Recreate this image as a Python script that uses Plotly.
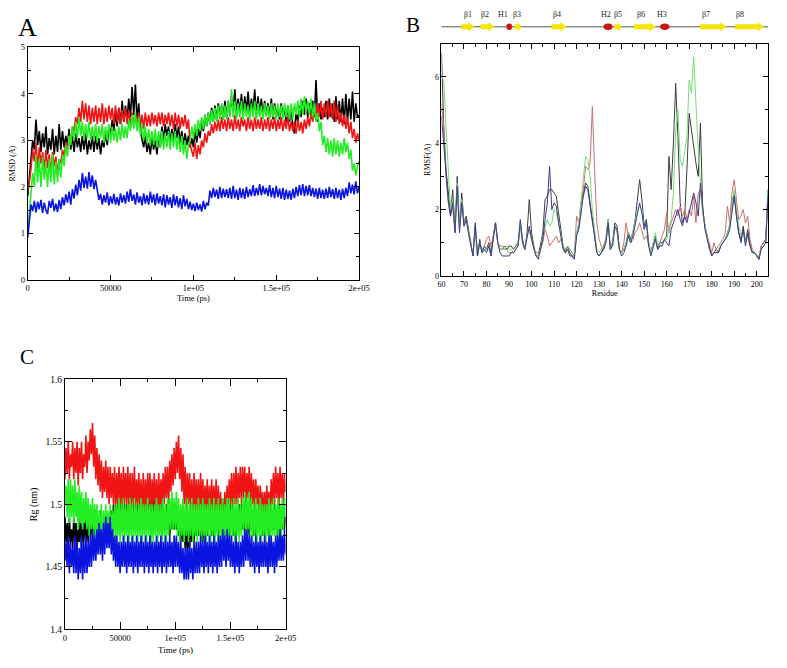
import plotly.graph_objects as go

# ---------------- Panel A: RMSD (A) vs time, sampled every 1000 ps ----------------
time_step_ps = 1000
rmsd_black = [1.8, 2.2, 2.6, 3.0, 2.8, 3.45, 2.9, 3.2, 2.75, 3.15, 2.85, 3.3, 2.7, 3.05, 2.8, 3.25, 2.7, 3.1, 2.75, 3.35,
              2.8, 3.2, 2.85, 3.1, 2.9, 3.25, 2.8, 3.1, 2.75, 3.15, 2.85, 3.05, 2.75, 3.1, 2.8, 3.15, 2.7, 3.0, 2.8, 3.1,
              2.75, 3.1, 2.8, 3.05, 2.7, 3.0, 2.85, 3.2, 2.9, 3.3, 3.1, 3.45, 3.2, 3.6, 3.3, 3.7, 3.35, 3.85, 3.4, 3.75,
              3.45, 3.9, 3.5, 4.15, 3.55, 4.2, 3.4, 3.8, 3.2, 3.0, 2.85, 3.1, 2.75, 2.95, 2.7, 3.05, 2.8, 3.0, 2.7, 3.1,
              2.85, 3.3, 3.0, 3.35, 3.1, 3.3, 2.95, 3.25, 3.0, 3.35, 3.05, 3.3, 2.95, 3.2, 2.9, 3.15, 2.9, 3.1, 2.85, 3.05,
              2.85, 3.2, 2.95, 3.25, 3.05, 3.45, 3.2, 3.55, 3.3, 3.6, 3.35, 3.7, 3.4, 3.75, 3.45, 3.8, 3.5, 3.75, 3.45, 3.85,
              3.5, 3.85, 3.55, 3.95, 3.6, 4.1, 3.55, 3.9, 3.6, 4.0, 3.55, 3.95, 3.6, 4.05, 3.55, 3.9, 3.6, 4.1, 3.5, 3.95,
              3.55, 3.9, 3.5, 3.85, 3.55, 3.8, 3.5, 3.9, 3.45, 3.8, 3.5, 3.75, 3.45, 3.8, 3.5, 3.7, 3.4, 3.75, 3.4, 3.7,
              3.3, 3.15, 3.6, 3.4, 3.75, 3.5, 3.85, 3.55, 3.9, 3.5, 3.8, 3.55, 3.85, 3.5, 4.3, 3.4, 3.8, 3.45, 3.7, 3.5,
              3.85, 3.45, 3.9, 3.5, 3.8, 3.4, 3.95, 3.45, 3.85, 3.4, 3.9, 3.35, 4.0, 3.4, 3.9, 3.45, 4.05, 3.4, 3.8, 3.5,
              3.55]
rmsd_red = [1.9, 2.1, 2.4, 2.8, 2.55, 2.95, 2.4, 2.85, 2.5, 2.75, 2.35, 2.8, 2.4, 2.7, 2.3, 2.75, 2.45, 2.65, 2.3, 2.6,
            2.5, 2.8, 2.65, 2.95, 2.8, 3.1, 2.95, 3.3, 3.2, 3.5, 3.35, 3.7, 3.4, 3.85, 3.45, 3.8, 3.4, 3.75, 3.35, 3.7,
            3.4, 3.75, 3.35, 3.7, 3.4, 3.8, 3.35, 3.7, 3.4, 3.75, 3.45, 3.7, 3.35, 3.75, 3.4, 3.7, 3.35, 3.65, 3.4, 3.7,
            3.35, 3.65, 3.3, 3.6, 3.35, 3.55, 3.25, 3.6, 3.3, 3.55, 3.25, 3.6, 3.3, 3.55, 3.3, 3.6, 3.35, 3.55, 3.3, 3.6,
            3.35, 3.6, 3.3, 3.55, 3.35, 3.6, 3.3, 3.55, 3.25, 3.6, 3.3, 3.55, 3.25, 3.5, 3.3, 3.55, 3.25, 3.45, 2.9, 2.75,
            2.65, 2.95, 2.6, 2.9, 2.7, 3.0, 2.85, 3.15, 2.95, 3.2, 3.1, 3.35, 3.15, 3.4, 3.2, 3.45, 3.2, 3.5, 3.25, 3.45,
            3.2, 3.5, 3.25, 3.45, 3.2, 3.55, 3.25, 3.45, 3.2, 3.5, 3.3, 3.45, 3.2, 3.5, 3.25, 3.45, 3.2, 3.5, 3.25, 3.45,
            3.25, 3.5, 3.2, 3.45, 3.25, 3.5, 3.2, 3.45, 3.25, 3.5, 3.2, 3.45, 3.25, 3.5, 3.2, 3.45, 3.25, 3.5, 3.2, 3.4,
            3.2, 3.4, 3.15, 3.45, 3.2, 3.4, 3.15, 3.45, 3.25, 3.5, 3.3, 3.6, 3.4, 3.7, 3.45, 3.8, 3.5, 3.85, 3.45, 3.8,
            3.5, 3.85, 3.5, 3.8, 3.45, 3.85, 3.4, 3.75, 3.35, 3.6, 3.3, 3.55, 3.25, 3.5, 3.15, 3.4, 3.05, 3.25, 2.95, 3.15,
            3.0]
rmsd_green = [1.0, 1.4, 1.8, 2.3, 2.0, 2.7, 2.1, 2.6, 2.0, 2.65, 2.15, 2.55, 2.0, 2.6, 2.1, 2.7, 2.05, 2.55, 2.1, 2.6,
              2.2, 2.7, 2.45, 2.9, 2.65, 3.1, 2.9, 3.3, 3.0, 3.4, 3.05, 3.5, 3.1, 3.4, 3.0, 3.35, 3.05, 3.4, 3.0, 3.3,
              3.0, 3.35, 2.95, 3.3, 3.05, 3.35, 2.95, 3.3, 3.0, 3.35, 2.95, 3.3, 3.0, 3.25, 2.95, 3.3, 3.0, 3.35, 3.05, 3.3,
              3.05, 3.45, 3.2, 3.55, 3.25, 3.6, 3.2, 3.5, 3.1, 3.35, 3.0, 3.3, 2.95, 3.25, 2.9, 3.2, 2.9, 3.25, 2.85, 3.2,
              2.85, 3.2, 2.8, 3.15, 2.85, 3.2, 2.8, 3.15, 2.85, 3.2, 2.8, 3.1, 2.75, 3.1, 2.7, 3.0, 2.6, 2.9, 3.0, 3.3,
              3.05, 3.35, 3.1, 3.45, 3.2, 3.5, 3.25, 3.55, 3.3, 3.6, 3.35, 3.65, 3.4, 3.7, 3.4, 3.75, 3.45, 3.8, 3.45, 3.75,
              3.45, 3.85, 3.5, 4.1, 3.5, 3.85, 3.45, 3.8, 3.5, 3.85, 3.45, 3.8, 3.5, 3.75, 3.45, 3.8, 3.5, 3.85, 3.45, 3.8,
              3.5, 3.75, 3.45, 3.8, 3.5, 3.75, 3.45, 3.8, 3.5, 3.75, 3.45, 3.8, 3.5, 3.75, 3.45, 3.8, 3.5, 3.75, 3.45, 3.8,
              3.45, 3.8, 3.55, 3.85, 3.5, 3.9, 3.55, 3.95, 3.6, 3.85, 3.55, 3.9, 3.5, 3.8, 3.4, 3.6, 3.2, 3.4, 2.9, 3.1,
              2.75, 3.05, 2.7, 3.0, 2.65, 3.05, 2.7, 3.0, 2.65, 2.95, 2.7, 3.05, 2.75, 2.95, 2.6, 2.8, 2.35, 2.5, 2.25, 2.45,
              2.55]
rmsd_blue = [0.9, 1.3, 1.62, 1.48, 1.7, 1.45, 1.68, 1.52, 1.72, 1.44, 1.66, 1.5, 1.42, 1.7, 1.55, 1.74, 1.48, 1.64, 1.46, 1.72,
             1.52, 1.78, 1.6, 1.84, 1.66, 1.9, 1.62, 1.95, 1.75, 2.05, 1.82, 2.15, 1.92, 2.3, 1.98, 2.22, 1.96, 2.32, 2.0, 2.25,
             1.95, 2.15, 1.9, 1.72, 1.85, 1.62, 1.82, 1.66, 1.88, 1.6, 1.8, 1.64, 1.85, 1.62, 1.78, 1.6, 1.86, 1.66, 1.82, 1.64,
             1.9, 1.68, 1.95, 1.7, 1.84, 1.62, 1.88, 1.66, 1.8, 1.6, 1.86, 1.64, 1.82, 1.62, 1.9, 1.66, 1.84, 1.6, 1.86, 1.64,
             1.8, 1.6, 1.84, 1.56, 1.82, 1.62, 1.78, 1.55, 1.84, 1.6, 1.8, 1.56, 1.76, 1.52, 1.82, 1.58, 1.74, 1.52, 1.68, 1.5,
             1.64, 1.48, 1.66, 1.5, 1.62, 1.47, 1.7, 1.52, 1.66, 1.6, 1.92, 1.76, 1.98, 1.78, 1.94, 1.74, 2.0, 1.76, 1.96, 1.78,
             1.95, 1.76, 1.98, 1.74, 2.02, 1.76, 1.94, 1.72, 1.98, 1.76, 1.96, 1.74, 2.0, 1.78, 1.95, 1.8, 2.04, 1.8, 1.98, 1.82,
             2.06, 1.82, 2.02, 1.84, 1.98, 1.8, 2.04, 1.78, 1.98, 1.76, 2.02, 1.78, 1.96, 1.74, 1.98, 1.72, 1.94, 1.74, 1.92, 1.72,
             1.96, 1.76, 2.0, 1.8, 2.04, 1.82, 2.06, 1.8, 2.02, 1.82, 2.04, 1.8, 1.98, 1.78, 1.96, 1.74, 1.98, 1.76, 1.94, 1.74,
             1.96, 1.76, 2.0, 1.78, 1.95, 1.74, 1.98, 1.76, 1.94, 1.72, 1.96, 1.76, 1.98, 1.8, 2.1, 1.86, 2.05, 1.84, 2.12, 1.86,
             2.0]

# ---------------- Panel B: RMSF (A) per residue 60..205 ----------------
residues = list(range(60, 206))
rmsf_black = [6.7, 4.5, 3.2, 2.5, 1.9, 2.6, 1.4, 3.0, 1.5, 2.5,
              1.6, 1.8, 1.4, 1.0, 0.6, 1.6, 0.6, 1.1, 0.7, 0.9,
              0.8, 1.0, 0.7, 1.2, 1.6, 1.0, 0.8, 0.8, 0.9, 0.8,
              0.9, 0.9, 0.8, 0.9, 1.0, 1.6, 1.1, 0.8, 1.3, 2.3,
              1.3, 0.9, 0.6, 0.6, 0.9, 1.3, 2.3, 2.4, 2.6, 2.6,
              2.5, 2.4, 1.9, 1.3, 0.9, 0.7, 0.9, 0.7, 0.6, 0.6,
              1.3, 1.5, 2.2, 2.5, 2.8, 2.7, 2.2, 1.8, 1.3, 0.7,
              0.6, 0.7, 0.9, 1.1, 1.7, 0.8, 1.0, 1.6, 1.5, 0.8,
              0.7, 0.8, 1.0, 1.3, 1.1, 1.3, 1.7, 2.3, 2.9, 2.3,
              1.5, 1.7, 1.0, 0.7, 1.0, 1.2, 0.8, 1.0, 1.0, 1.1,
              1.2, 3.6, 2.6, 4.0, 5.8, 4.2, 2.2, 1.6, 1.8, 3.2,
              4.9, 4.4, 3.8, 3.4, 3.0, 4.6, 2.0, 1.5, 1.2, 0.8,
              0.6, 0.7, 0.8, 0.7, 0.9, 1.0, 1.1, 1.3, 1.5, 2.2,
              2.5, 1.8, 1.3, 1.1, 1.5, 1.0, 1.4, 1.0, 0.7, 0.7,
              0.6, 0.5, 0.9, 1.0, 1.1, 2.6]
rmsf_red = [5.2, 4.5, 3.0, 2.2, 1.8, 2.1, 1.3, 2.6, 1.4, 2.2,
            1.5, 1.7, 1.3, 0.9, 0.7, 1.4, 0.7, 1.0, 0.8, 0.9,
            1.1, 1.2, 0.9, 1.2, 1.5, 1.0, 0.9, 0.9, 0.8, 0.8,
            0.7, 0.7, 0.7, 0.8, 0.9, 1.5, 1.0, 0.8, 1.2, 1.4,
            1.1, 0.8, 0.7, 0.7, 0.8, 1.0, 1.4, 1.2, 0.9, 1.0,
            1.1, 1.2, 1.0, 1.1, 0.9, 0.8, 0.9, 0.8, 0.7, 0.6,
            1.8, 1.6, 2.2, 2.6, 3.3, 3.2, 3.4, 5.1, 3.2, 1.6,
            1.1, 0.9, 0.8, 1.0, 1.5, 0.9, 1.0, 1.5, 1.3, 0.8,
            0.7, 1.0, 1.6, 1.2, 1.0, 1.1, 1.3, 1.4, 1.6, 1.3,
            1.1, 1.2, 0.9, 0.7, 1.0, 1.1, 0.9, 1.0, 1.2, 1.4,
            1.9, 1.3, 1.6, 1.8, 2.0, 1.8, 2.1, 1.8, 2.0, 1.7,
            2.0, 1.8, 2.4, 1.6, 2.5, 2.6, 1.9, 1.5, 1.2, 0.9,
            0.7, 1.0, 0.8, 0.9, 1.0, 1.1, 1.3, 2.1, 1.6, 2.5,
            2.9, 2.2, 1.7, 1.8, 2.0, 1.6, 1.8, 1.1, 0.8, 0.7,
            0.6, 0.6, 0.9, 1.0, 1.1, 2.3]
rmsf_green = [6.0, 5.9, 4.5, 3.0, 2.0, 2.3, 1.4, 2.8, 1.5, 2.3,
              1.6, 1.7, 1.3, 0.9, 0.6, 1.4, 0.6, 1.0, 0.7, 0.8,
              0.8, 0.9, 0.6, 1.1, 1.6, 1.0, 0.8, 0.8, 0.8, 0.9,
              0.8, 0.8, 0.7, 0.8, 0.9, 1.6, 1.0, 0.8, 1.2, 1.4,
              1.1, 0.8, 0.6, 0.6, 0.8, 1.2, 1.5, 1.7, 1.5, 1.6,
              2.0, 1.9, 1.6, 1.3, 0.9, 0.8, 0.9, 0.8, 0.7, 0.6,
              1.3, 1.6, 2.3, 3.0, 3.6, 3.5, 3.0, 2.0, 1.3, 0.8,
              0.7, 0.8, 0.9, 1.1, 1.7, 0.8, 1.0, 1.5, 1.4, 0.8,
              0.7, 0.8, 1.0, 1.2, 1.0, 1.3, 1.6, 2.0, 2.1, 2.0,
              1.4, 1.6, 1.0, 0.7, 1.0, 1.3, 0.9, 0.9, 1.0, 1.1,
              1.1, 1.4, 1.7, 2.5, 4.3, 5.0, 3.5, 3.3, 3.8, 4.2,
              5.9, 5.5, 6.6, 5.0, 3.8, 2.8, 2.0, 1.5, 1.1, 0.8,
              0.6, 0.7, 0.7, 0.8, 0.9, 1.0, 1.1, 1.3, 1.5, 2.1,
              2.6, 2.0, 1.5, 1.2, 1.3, 1.0, 1.2, 0.9, 0.7, 0.7,
              0.6, 0.6, 0.8, 0.9, 1.0, 2.6]
rmsf_blue = [4.8, 4.0, 3.1, 2.3, 1.8, 2.2, 1.3, 2.7, 1.3, 2.2,
             1.5, 1.7, 1.3, 0.9, 0.6, 1.5, 0.6, 1.0, 0.7, 0.8,
             0.7, 0.9, 0.6, 1.1, 1.6, 1.0, 0.7, 0.6, 0.6, 0.6,
             0.6, 0.7, 0.7, 0.8, 0.9, 1.7, 1.0, 0.8, 1.2, 1.5,
             1.1, 0.8, 0.6, 0.5, 0.8, 1.1, 1.7, 2.2, 3.3, 2.0,
             2.2, 2.1, 1.6, 1.2, 0.8, 0.7, 0.8, 0.6, 0.6, 0.5,
             1.2, 1.4, 2.0, 2.4, 2.7, 2.6, 2.1, 1.7, 1.2, 0.7,
             0.6, 0.7, 0.8, 1.0, 1.6, 0.8, 0.9, 1.5, 1.4, 0.8,
             0.6, 0.7, 0.9, 1.2, 1.0, 1.2, 1.5, 1.9, 2.2, 1.9,
             1.4, 1.6, 0.9, 0.6, 0.9, 1.1, 0.8, 0.9, 0.9, 1.1,
             1.0, 0.9, 1.4, 1.6, 1.8, 2.0, 1.7, 1.5, 1.8, 1.6,
             1.9, 2.2, 2.5, 2.2, 1.8, 2.8, 2.0, 1.4, 1.1, 0.8,
             0.6, 0.7, 0.7, 0.7, 0.9, 1.0, 1.1, 1.2, 1.4, 2.0,
             2.4, 1.8, 1.3, 1.0, 1.4, 0.9, 1.3, 0.9, 0.7, 0.7,
             0.6, 0.5, 0.8, 0.9, 1.0, 2.4]

# Secondary structure above panel B
ss_labels = ["β1", "β2", "H1", "β3", "β4", "H2", "β5", "β6", "H3", "β7", "β8"]
ss_type = ["E", "E", "H", "E", "E", "H", "E", "E", "H", "E", "E"]
ss_start = [69.0, 77.5, 88.8, 92.5, 109.0, 132.0, 137.0, 145.5, 157.0, 175.0, 190.5]
ss_end = [74.5, 83.5, 91.4, 95.3, 115.5, 136.0, 139.8, 155.0, 161.3, 186.5, 203.0]
ss_label_pos = [71.7, 79.4, 87.5, 93.6, 111.3, 133.2, 138.4, 148.6, 158.0, 177.6, 192.6]

# ---------------- Panel C: Rg (nm) vs time, sampled every 1000 ps ----------------
rg_black = [1.49, 1.47, 1.485, 1.465, 1.49, 1.47, 1.48, 1.465, 1.49, 1.47, 1.485, 1.465, 1.48, 1.47, 1.49, 1.465, 1.485, 1.47, 1.49, 1.47,
            1.485, 1.47, 1.49, 1.475, 1.495, 1.47, 1.49, 1.475, 1.495, 1.475, 1.49, 1.475, 1.495, 1.47, 1.49, 1.475, 1.49, 1.47, 1.485, 1.47,
            1.49, 1.475, 1.495, 1.48, 1.5, 1.48, 1.495, 1.48, 1.5, 1.485, 1.5, 1.48, 1.495, 1.48, 1.5, 1.485, 1.5, 1.48, 1.495, 1.48,
            1.5, 1.485, 1.5, 1.48, 1.495, 1.48, 1.5, 1.485, 1.5, 1.48, 1.5, 1.485, 1.505, 1.485, 1.5, 1.485, 1.505, 1.49, 1.505, 1.49,
            1.505, 1.49, 1.505, 1.485, 1.5, 1.485, 1.505, 1.49, 1.5, 1.48, 1.495, 1.48, 1.5, 1.48, 1.495, 1.475, 1.495, 1.48, 1.5, 1.48,
            1.5, 1.48, 1.495, 1.475, 1.49, 1.47, 1.49, 1.47, 1.485, 1.465, 1.485, 1.46, 1.48, 1.465, 1.485, 1.47, 1.49, 1.47, 1.49, 1.475,
            1.49, 1.475, 1.495, 1.475, 1.49, 1.47, 1.495, 1.475, 1.49, 1.475, 1.495, 1.48, 1.495, 1.475, 1.49, 1.475, 1.495, 1.48, 1.495, 1.475,
            1.495, 1.48, 1.5, 1.48, 1.495, 1.475, 1.5, 1.48, 1.495, 1.475, 1.5, 1.48, 1.495, 1.475, 1.49, 1.475, 1.495, 1.48, 1.5, 1.48,
            1.5, 1.48, 1.495, 1.475, 1.5, 1.48, 1.495, 1.475, 1.5, 1.48, 1.495, 1.475, 1.49, 1.475, 1.495, 1.48, 1.5, 1.48, 1.495, 1.475,
            1.495, 1.475, 1.5, 1.48, 1.495, 1.475, 1.5, 1.48, 1.495, 1.48, 1.5, 1.48, 1.495, 1.475, 1.5, 1.48, 1.495, 1.48, 1.5, 1.48,
            1.49]
rg_red = [1.52, 1.545, 1.525, 1.55, 1.52, 1.54, 1.53, 1.55, 1.52, 1.545, 1.525, 1.55, 1.515, 1.545, 1.525, 1.55, 1.52, 1.54, 1.53, 1.555,
          1.525, 1.55, 1.535, 1.56, 1.54, 1.565, 1.53, 1.555, 1.52, 1.545, 1.515, 1.54, 1.51, 1.535, 1.505, 1.53, 1.51, 1.535, 1.505, 1.53,
          1.5, 1.53, 1.505, 1.525, 1.5, 1.53, 1.495, 1.525, 1.5, 1.53, 1.5, 1.525, 1.495, 1.53, 1.5, 1.525, 1.5, 1.53, 1.495, 1.525,
          1.495, 1.525, 1.5, 1.53, 1.495, 1.52, 1.5, 1.525, 1.495, 1.52, 1.49, 1.525, 1.495, 1.52, 1.495, 1.525, 1.5, 1.525, 1.495, 1.52,
          1.5, 1.525, 1.495, 1.52, 1.49, 1.525, 1.495, 1.52, 1.5, 1.525, 1.5, 1.53, 1.505, 1.53, 1.5, 1.535, 1.51, 1.54, 1.515, 1.545,
          1.52, 1.55, 1.525, 1.555, 1.52, 1.545, 1.51, 1.54, 1.5, 1.53, 1.495, 1.525, 1.5, 1.525, 1.495, 1.52, 1.49, 1.525, 1.495, 1.52,
          1.495, 1.52, 1.49, 1.525, 1.495, 1.52, 1.49, 1.515, 1.495, 1.52, 1.49, 1.515, 1.49, 1.52, 1.495, 1.515, 1.49, 1.52, 1.49, 1.515,
          1.485, 1.51, 1.49, 1.505, 1.485, 1.51, 1.49, 1.515, 1.495, 1.52, 1.5, 1.525, 1.495, 1.525, 1.5, 1.53, 1.5, 1.525, 1.505, 1.53,
          1.5, 1.53, 1.505, 1.53, 1.5, 1.525, 1.505, 1.53, 1.5, 1.525, 1.5, 1.52, 1.495, 1.52, 1.5, 1.515, 1.49, 1.515, 1.495, 1.51,
          1.49, 1.51, 1.49, 1.515, 1.495, 1.51, 1.495, 1.52, 1.5, 1.525, 1.5, 1.53, 1.505, 1.525, 1.5, 1.53, 1.505, 1.525, 1.5, 1.525,
          1.51]
rg_green = [1.5, 1.515, 1.49, 1.52, 1.485, 1.52, 1.49, 1.515, 1.485, 1.52, 1.49, 1.51, 1.48, 1.515, 1.485, 1.51, 1.48, 1.505, 1.485, 1.51,
            1.48, 1.505, 1.475, 1.5, 1.48, 1.505, 1.475, 1.5, 1.475, 1.5, 1.47, 1.495, 1.475, 1.5, 1.47, 1.495, 1.475, 1.5, 1.47, 1.495,
            1.475, 1.5, 1.47, 1.495, 1.475, 1.5, 1.47, 1.5, 1.475, 1.505, 1.47, 1.5, 1.475, 1.505, 1.47, 1.5, 1.475, 1.5, 1.47, 1.505,
            1.475, 1.5, 1.47, 1.505, 1.475, 1.5, 1.47, 1.5, 1.475, 1.505, 1.47, 1.5, 1.475, 1.5, 1.47, 1.505, 1.475, 1.5, 1.47, 1.5,
            1.47, 1.5, 1.475, 1.505, 1.47, 1.5, 1.475, 1.5, 1.47, 1.505, 1.475, 1.5, 1.47, 1.505, 1.475, 1.505, 1.48, 1.51, 1.48, 1.505,
            1.48, 1.51, 1.475, 1.505, 1.47, 1.5, 1.475, 1.505, 1.47, 1.5, 1.475, 1.505, 1.47, 1.5, 1.475, 1.505, 1.47, 1.5, 1.475, 1.5,
            1.47, 1.505, 1.475, 1.5, 1.47, 1.505, 1.475, 1.5, 1.47, 1.5, 1.475, 1.505, 1.47, 1.5, 1.475, 1.505, 1.47, 1.5, 1.475, 1.505,
            1.47, 1.5, 1.475, 1.505, 1.47, 1.5, 1.475, 1.505, 1.475, 1.505, 1.47, 1.5, 1.475, 1.505, 1.47, 1.5, 1.475, 1.505, 1.47, 1.5,
            1.475, 1.505, 1.48, 1.51, 1.475, 1.505, 1.48, 1.51, 1.475, 1.505, 1.47, 1.5, 1.475, 1.505, 1.47, 1.5, 1.475, 1.505, 1.47, 1.5,
            1.475, 1.5, 1.47, 1.5, 1.475, 1.505, 1.47, 1.5, 1.475, 1.505, 1.475, 1.5, 1.47, 1.505, 1.475, 1.5, 1.47, 1.505, 1.48, 1.505,
            1.49]
rg_blue = [1.455, 1.47, 1.45, 1.475, 1.445, 1.47, 1.45, 1.465, 1.445, 1.475, 1.445, 1.47, 1.44, 1.465, 1.445, 1.475, 1.44, 1.47, 1.445, 1.475,
           1.445, 1.47, 1.45, 1.475, 1.45, 1.48, 1.455, 1.475, 1.455, 1.48, 1.46, 1.485, 1.46, 1.48, 1.455, 1.485, 1.46, 1.49, 1.465, 1.485,
           1.465, 1.49, 1.46, 1.48, 1.455, 1.475, 1.45, 1.475, 1.45, 1.47, 1.445, 1.47, 1.45, 1.475, 1.45, 1.47, 1.445, 1.475, 1.45, 1.47,
           1.45, 1.475, 1.445, 1.47, 1.45, 1.475, 1.445, 1.47, 1.45, 1.475, 1.45, 1.47, 1.445, 1.475, 1.45, 1.47, 1.445, 1.475, 1.45, 1.47,
           1.445, 1.47, 1.45, 1.475, 1.445, 1.47, 1.45, 1.475, 1.445, 1.47, 1.45, 1.475, 1.445, 1.47, 1.45, 1.475, 1.45, 1.47, 1.445, 1.475,
           1.45, 1.475, 1.45, 1.47, 1.445, 1.47, 1.445, 1.465, 1.44, 1.465, 1.44, 1.465, 1.44, 1.47, 1.445, 1.465, 1.44, 1.47, 1.445, 1.47,
           1.445, 1.47, 1.445, 1.475, 1.45, 1.47, 1.445, 1.475, 1.45, 1.47, 1.445, 1.475, 1.45, 1.47, 1.445, 1.475, 1.45, 1.47, 1.445, 1.475,
           1.45, 1.475, 1.45, 1.48, 1.455, 1.475, 1.45, 1.48, 1.455, 1.475, 1.45, 1.475, 1.45, 1.47, 1.445, 1.475, 1.45, 1.47, 1.445, 1.47,
           1.45, 1.475, 1.45, 1.48, 1.455, 1.48, 1.455, 1.475, 1.45, 1.475, 1.45, 1.47, 1.445, 1.475, 1.45, 1.47, 1.445, 1.475, 1.45, 1.47,
           1.45, 1.475, 1.45, 1.47, 1.445, 1.475, 1.45, 1.475, 1.45, 1.47, 1.445, 1.475, 1.45, 1.475, 1.455, 1.48, 1.455, 1.475, 1.455, 1.48,
           1.46]

time_ticks = [0, 50000, 100000, 150000, 200000]
time_ticktext = ["0", "50000", "1e+05", "1.5e+05", "2e+05"]

COL_BLACK = "#000000"
COL_RED = "#f01414"
COL_GREEN = "#22ee22"
COL_BLUE = "#0a14e0"

SERIF = "Liberation Serif, Times New Roman, serif"

fig = go.Figure()

def times(vals):
    return [i * time_step_ps for i in range(len(vals))]

# Panel A traces
for vals, col in [(rmsd_black, COL_BLACK), (rmsd_red, COL_RED), (rmsd_green, COL_GREEN), (rmsd_blue, COL_BLUE)]:
    fig.add_trace(go.Scatter(x=times(vals), y=vals, mode="lines", line=dict(color=col, width=1.6),
                             xaxis="x", yaxis="y", showlegend=False, hoverinfo="skip"))

# Panel B traces
for vals, col in [(rmsf_black, "#3c3c3c"), (rmsf_red, "#cc6f6f"), (rmsf_green, "#77dd77"), (rmsf_blue, "#3a3a8c")]:
    fig.add_trace(go.Scatter(x=residues, y=vals, mode="lines", line=dict(color=col, width=1),
                             xaxis="x2", yaxis="y2", showlegend=False, hoverinfo="skip"))

# Panel C traces
for vals, col in [(rg_black, COL_BLACK), (rg_red, COL_RED), (rg_green, COL_GREEN), (rg_blue, COL_BLUE)]:
    fig.add_trace(go.Scatter(x=times(vals), y=vals, mode="lines", line=dict(color=col, width=1.6),
                             xaxis="x3", yaxis="y3", showlegend=False, hoverinfo="skip"))

# Secondary structure strip
fig.add_trace(go.Scatter(x=[residues[0], residues[-1]], y=[0, 0], mode="lines",
                         line=dict(color="#555555", width=1), xaxis="x4", yaxis="y4",
                         showlegend=False, hoverinfo="skip"))
for lab, t, s, e, lp in zip(ss_labels, ss_type, ss_start, ss_end, ss_label_pos):
    if t == "E":
        h = min(2.6, (e - s) * 0.45)
        b, a = 0.22, 0.42
        xs = [s, e - h, e - h, e, e - h, e - h, s, s]
        ys = [-b, -b, -a, 0, a, b, b, -b]
        fig.add_trace(go.Scatter(x=xs, y=ys, mode="lines", fill="toself", fillcolor="#f7e600",
                                 line=dict(color="#f7e600", width=0.5), xaxis="x4", yaxis="y4",
                                 showlegend=False, hoverinfo="skip"))
    else:
        fig.add_shape(type="circle", xref="x4", yref="y4", x0=s, x1=e, y0=-0.32, y1=0.32,
                      fillcolor="#cc1414", line=dict(width=0))
    fig.add_annotation(x=lp, y=1.15, xref="x4", yref="y4", text=lab, showarrow=False,
                       font=dict(family=SERIF, size=8, color="#222222"))

# The page body has an 8 px margin: size the figure so the page is exactly 787x668,
# and give positions in page pixels (offset by the body margin).
PAGE_W, PAGE_H, BODY = 787, 668, 8
W, H = PAGE_W - 2 * BODY, PAGE_H - 2 * BODY

def xd(a, b):
    return [max(0.0, (a - BODY) / W), min(1.0, (b - BODY) / W)]

def yd(top, bottom):
    return [max(0.0, 1 - (bottom - BODY) / H), min(1.0, 1 - (top - BODY) / H)]

def axis(domain, rng, title, fontsize, titlesize, standoff, ticklen, **kw):
    d = dict(domain=domain, range=rng, showline=True, linecolor="black", linewidth=1,
             mirror="ticks", ticks="inside", ticklen=ticklen, tickcolor="black", tickwidth=1,
             showgrid=False, zeroline=False,
             tickfont=dict(family=SERIF, size=fontsize, color="black"),
             title=dict(text=title, font=dict(family=SERIF, size=titlesize, color="black"),
                        standoff=standoff))
    d.update(kw)
    return d

def minor(tick0, dtick):
    return dict(ticks="inside", ticklen=3, tickcolor="black", tickmode="linear", tick0=tick0, dtick=dtick, showgrid=False)

C_LEFT, C_RIGHT, C_TOP, C_BOTTOM = 62, 287, 380, 634

fig.update_layout(
    width=W, height=H,
    margin=dict(l=0, r=0, t=0, b=0),
    paper_bgcolor="white", plot_bgcolor="white",
    showlegend=False,
    xaxis=axis(xd(24, 362), [0, 200000], "Time (ps)", 8.5, 8.5, 2, 5, anchor="y",
               tickmode="array", tickvals=time_ticks, ticktext=time_ticktext, minor=minor(0, 25000)),
    yaxis=axis(yd(43, 279), [0, 5], "RMSD (A)", 8.5, 8, 4, 5, anchor="x",
               tickmode="linear", tick0=0, dtick=1, minor=minor(0, 0.5)),
    xaxis2=axis(xd(446, 779), [60, 205], "Residue", 8, 8, 2, 5, anchor="y2",
                tickmode="linear", tick0=60, dtick=10, minor=minor(60, 5)),
    yaxis2=axis(yd(39, 275), [0, 7], "RMSF(A)", 8, 8, 3, 5, anchor="x2",
                tickmode="array", tickvals=[0, 2, 4, 6], ticktext=["0", "2", "4", "6"], minor=minor(0, 1)),
    xaxis3=axis(xd(C_LEFT, C_RIGHT), [0, 200000], "", 8.5, 9, 1, 7, anchor="y3",
                tickmode="array", tickvals=time_ticks, ticktext=time_ticktext, minor=minor(0, 25000)),
    yaxis3=axis(yd(C_TOP, C_BOTTOM), [1.4, 1.6], "Rg (nm)", 9.5, 10, 5, 7, anchor="x3",
                tickmode="array", tickvals=[1.4, 1.45, 1.5, 1.55, 1.6], ticktext=["1.4", "1.45", "1.5", "1.55", "1.6"],
                minor=minor(1.4, 0.025)),
    xaxis4=dict(domain=xd(446, 779), range=[60, 205], visible=False, anchor="y4"),
    yaxis4=dict(domain=yd(8, 36), range=[-1.34, 1.34], visible=False, anchor="x4"),
)

# Panel C x-axis title, placed relative to the bottom of panel C, below its tick labels
fig.add_annotation(x=0.5, y=0, xref="x3 domain", yref="y3 domain",
                   text="Time (ps)", showarrow=False, xanchor="center", yanchor="top", yshift=-14,
                   font=dict(family=SERIF, size=9, color="black"))

for letter, px, py, size in [("A", 24, 23, 26), ("B", 417, 20, 21), ("C", 23, 357, 21)]:
    fig.add_annotation(x=(px - BODY) / W, y=1 - (py - BODY) / H, xref="paper", yref="paper", text=letter,
                       showarrow=False, xanchor="center", yanchor="middle",
                       font=dict(family=SERIF, size=size, color="black"))

fig.write_html("out.html")
